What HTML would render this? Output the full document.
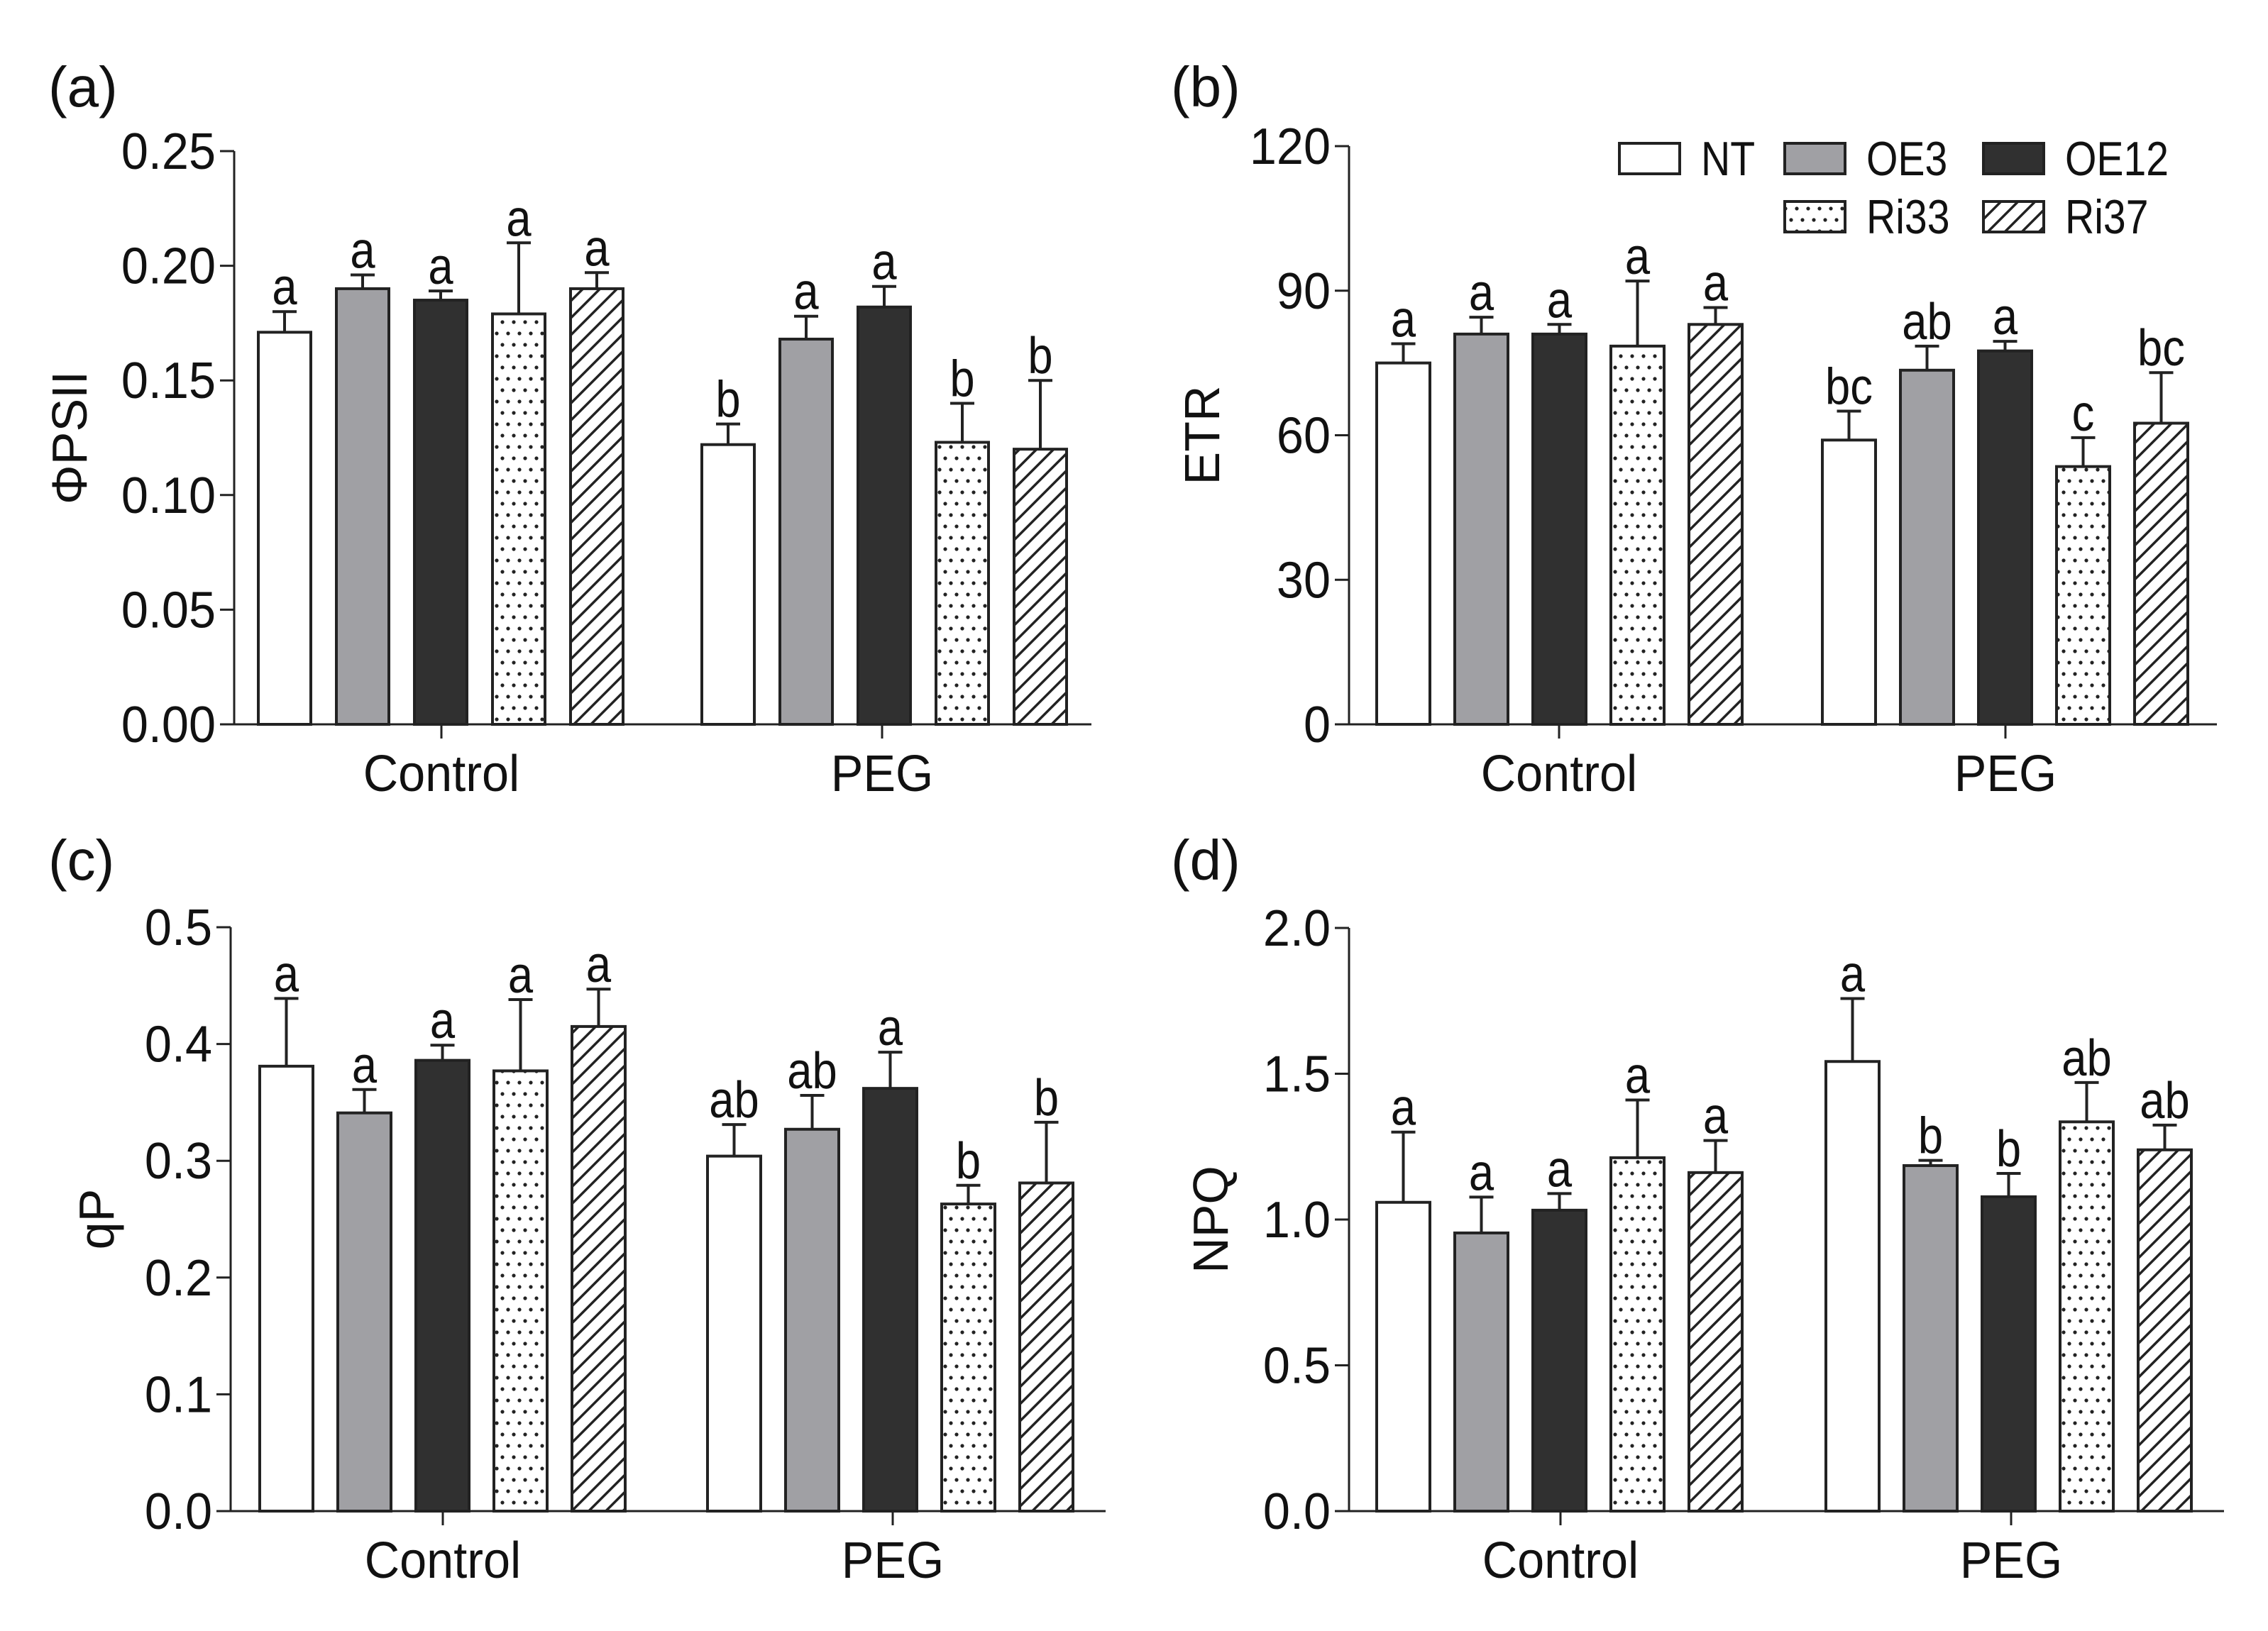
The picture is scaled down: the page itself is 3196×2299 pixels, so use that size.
<!DOCTYPE html>
<html><head><meta charset="utf-8">
<style>
html,body{margin:0;padding:0;background:#fff;}
svg{display:block;}
text{font-family:"Liberation Sans Narrow","Liberation Sans",sans-serif;fill:#111;}
</style></head>
<body>
<svg id="fig" width="3196" height="2299" viewBox="0 0 3196 2299" xmlns="http://www.w3.org/2000/svg">
<defs>
<pattern id="dots" patternUnits="userSpaceOnUse" width="16" height="32">
<rect width="16" height="32" fill="#fff"/>
<circle cx="4" cy="6" r="2.6" fill="#222"/>
<circle cx="12" cy="22" r="2.6" fill="#222"/>
</pattern>
<pattern id="hatch" patternUnits="userSpaceOnUse" width="17" height="17" patternTransform="rotate(45)">
<rect width="17" height="17" fill="#fff"/>
<line x1="0" y1="0" x2="0" y2="17" stroke="#222" stroke-width="7"/>
</pattern>
</defs>
<g id="root"></g>
</svg>
<script>
const categories = ["Control","PEG"];
const seriesNames = ["NT","OE3","OE12","Ri33","Ri37"];

const aValues = [[0.171,0.190,0.185,0.179,0.190],[0.122,0.168,0.182,0.123,0.120]];
const aErrTop = [[0.180,0.196,0.189,0.210,0.197],[0.131,0.178,0.191,0.140,0.150]];
const aLetters = [["a","a","a","a","a"],["b","a","a","b","b"]];
const aTicks = ["0.00","0.05","0.10","0.15","0.20","0.25"];

const bValues = [[75,81,81,78.5,83],[59,73.5,77.5,53.5,62.5]];
const bErrTop = [[79,84.5,83,92,86.5],[65,78.5,79.5,59.5,73]];
const bLetters = [["a","a","a","a","a"],["bc","ab","a","c","bc"]];
const bTicks = ["0","30","60","90","120"];

const cValues = [[0.381,0.341,0.386,0.377,0.415],[0.304,0.327,0.362,0.263,0.281]];
const cErrTop = [[0.439,0.361,0.399,0.438,0.447],[0.331,0.356,0.393,0.279,0.333]];
const cLetters = [["a","a","a","a","a"],["ab","ab","a","b","b"]];
const cTicks = ["0.0","0.1","0.2","0.3","0.4","0.5"];

const dValues = [[1.059,0.954,1.032,1.212,1.161],[1.542,1.185,1.078,1.335,1.239]];
const dErrTop = [[1.30,1.077,1.089,1.41,1.271],[1.758,1.203,1.158,1.47,1.324]];
const dLetters = [["a","a","a","a","a"],["a","b","b","ab","ab"]];
const dTicks = ["0.0","0.5","1.0","1.5","2.0"];

const NS="http://www.w3.org/2000/svg";
const root=document.getElementById('root');
const fills=["#fff","#a0a0a4","#303030","url(#dots)","url(#hatch)"];
function mk(tag,attrs,parent){const e=document.createElementNS(NS,tag);for(const k in attrs)e.setAttribute(k,attrs[k]);(parent||root).appendChild(e);return e;}
function txt(x,y,size,anchor,str,parent,sx,rot){
  const t=mk('text',{x:0,y:0,'font-size':size,'text-anchor':anchor,
    transform:rot?`translate(${x},${y}) rotate(-90) scale(${sx},1)`:`translate(${x},${y}) scale(${sx},1)`},parent);
  t.textContent=str;return t;
}

function panel(cfg){
  const g=mk('g',{});
  
  
  const ymax=parseFloat(cfg.ticks[cfg.ticks.length-1]);
  const y=v=>cfg.y0-(v/ymax)*(cfg.y0-cfg.yTop);
  const lbl=txt(cfg.labelX,cfg.labelY,80,'start','('+cfg.id+')',g,1);
  
  
  const ya=mk('line',{x1:cfg.ax,y1:cfg.yTop,x2:cfg.ax,y2:cfg.y0,stroke:'#222','stroke-width':3},g);
  
  
  const xa=mk('line',{x1:cfg.ax,y1:cfg.y0,x2:cfg.axEnd,y2:cfg.y0,stroke:'#222','stroke-width':3},g);
  
  
  cfg.ticks.forEach(t=>{
    const yy=y(parseFloat(t));
    mk('line',{x1:cfg.ax-20,y1:yy,x2:cfg.ax,y2:yy,stroke:'#222','stroke-width':3},g);
    const tx=txt(cfg.ax-26,yy+25,72,'end',t,g,0.95);
    
    
  });
  const yt=txt(cfg.titleX,(cfg.yTop+cfg.y0)/2,70,'middle',cfg.title,g,1,true);
  
  
  categories.forEach((c,ci)=>{
    mk('line',{x1:cfg.ticksX[ci],y1:cfg.y0,x2:cfg.ticksX[ci],y2:cfg.y0+20,stroke:'#222','stroke-width':3},g);
    const cl=txt(cfg.ticksX[ci],cfg.y0+94,72,'middle',c,g,0.95);
    
    
    for(let s=0;s<5;s++){
      const left=cfg.first[ci]+s*cfg.pitch, w=cfg.bw, cx=left+w/2;
      const v=cfg.values[ci][s], e=cfg.err[ci][s];
      const bar=mk('rect',{x:left,y:y(v),width:w,height:cfg.y0-y(v),fill:fills[s],stroke:'#222','stroke-width':4},g);
      
      
      mk('line',{x1:cx,y1:y(v),x2:cx,y2:y(e),stroke:'#222','stroke-width':4},g);
      mk('line',{x1:cx-17,y1:y(e),x2:cx+17,y2:y(e),stroke:'#222','stroke-width':4},g);
      const lt=txt(cx,y(e)-10,72,'middle',cfg.letters[ci][s],g,0.88);
      
      
    }
  });
}

panel({id:'a',ax:330,axEnd:1538,yTop:213,y0:1021,labelX:68,labelY:150,titleX:122,title:'ΦPSII',
  ticks:aTicks,values:aValues,err:aErrTop,letters:aLetters,first:[364,989],pitch:110,bw:74,ticksX:[622,1243]});
panel({id:'b',ax:1901,axEnd:3124,yTop:206,y0:1021,labelX:1650,labelY:150,titleX:1718,title:'ETR',
  ticks:bTicks,values:bValues,err:bErrTop,letters:bLetters,first:[1940,2568],pitch:110,bw:75,ticksX:[2197,2826]});
panel({id:'c',ax:325,axEnd:1558,yTop:1307,y0:2130,labelX:68,labelY:1240,titleX:160,title:'qP',
  ticks:cTicks,values:cValues,err:cErrTop,letters:cLetters,first:[366,997],pitch:110,bw:75,ticksX:[624,1258]});
panel({id:'d',ax:1901,axEnd:3134,yTop:1308,y0:2130,labelX:1650,labelY:1240,titleX:1730,title:'NPQ',
  ticks:dTicks,values:dValues,err:dErrTop,letters:dLetters,first:[1940,2573],pitch:110,bw:75,ticksX:[2199,2834]});

const leg=mk('g',{});


const legPos=[[2282,202],[2515,202],[2795,202],[2515,284],[2795,284]];
seriesNames.forEach((n,i)=>{
  const [lx,ly]=legPos[i];
  const r=mk('rect',{x:lx,y:ly,width:85,height:43,fill:fills[i],stroke:'#222','stroke-width':4},leg);
  
  
  const t=txt(lx+115,ly+45,68,'start',n,leg,0.84);
  
  
});
</script>
</body></html>
